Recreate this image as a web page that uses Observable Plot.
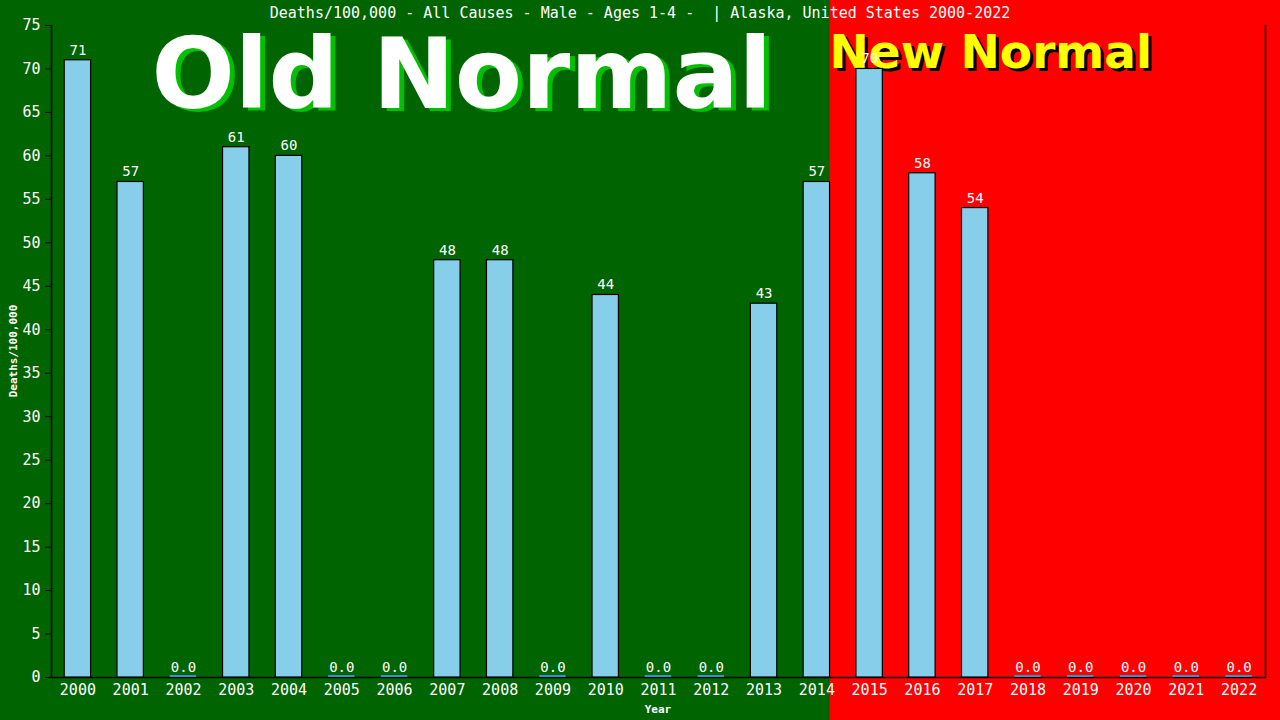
<!DOCTYPE html>
<html>
<head>
<meta charset="utf-8">
<script src="https://cdn.jsdelivr.net/npm/d3@7"></script>
<script src="https://cdn.jsdelivr.net/npm/@observablehq/plot@0.6"></script>
<style>
  html, body { margin: 0; padding: 0; background: #006400; overflow: hidden; }
  #chart svg { display: block; }
</style>
</head>
<body>
<div id="chart"></div>
<script>
const years = ["2000","2001","2002","2003","2004","2005","2006","2007","2008","2009","2010","2011","2012","2013","2014","2015","2016","2017","2018","2019","2020","2021","2022"];
const deaths = [71, 57, 0, 61, 60, 0, 0, 48, 48, 0, 44, 0, 0, 43, 57, 70, 58, 54, 0, 0, 0, 0, 0];
const yTicks = [0, 5, 10, 15, 20, 25, 30, 35, 40, 45, 50, 55, 60, 65, 70, 75];
const titleText = "Deaths/100,000 - All Causes - Male - Ages 1-4 -  | Alaska, United States 2000-2022";
const yLabel = "Deaths/100,000";
const xLabel = "Year";
const oldLabel = "Old Normal";
const newLabel = "New Normal";
const lastOldYear = "2014";

const data = years.map((y, i) => ({year: y, value: deaths[i]}));
const mono = "'DejaVu Sans Mono', monospace";

const chart = Plot.plot({
  width: 1280,
  height: 720,
  marginTop: 25,
  marginBottom: 43,
  marginLeft: 51,
  marginRight: 15,
  style: {background: "transparent", fontFamily: mono, fontSize: "15px", color: "white"},
  x: {type: "band", domain: years, paddingInner: 0.5, paddingOuter: 0.25, round: false, label: null},
  y: {domain: [0, 75], label: null},
  marks: [
    Plot.ruleY([0], {stroke: "black", strokeWidth: 1.5}),
    Plot.barY(data, {x: "year", y: "value", fill: "#87CEEB", stroke: "black", strokeWidth: 1.2}),
    Plot.tickY(data.filter(d => d.value === 0), {x: "year", y: "value", stroke: "#3d8fcc", strokeWidth: 2, dy: -1.5}),
    Plot.text(data, {x: "year", y: "value", text: d => d.value === 0 ? "0.0" : String(d.value),
      dy: -10, fill: "white", fontSize: 14, fontFamily: mono}),
    Plot.axisY({ticks: yTicks, tickSize: 6, tickPadding: 5, stroke: "black", fill: "white", fontSize: 15, label: null}),
    Plot.axisX({tickSize: 0, tickPadding: 7, fill: "white", fontSize: 15, label: null}),
    Plot.frame({anchor: "left", stroke: "black", strokeWidth: 1.5}),
    Plot.frame({anchor: "right", stroke: "black", strokeWidth: 1.5})
  ]
});

document.getElementById("chart").appendChild(chart);

// Background regions and decorative texts tied to the x scale
const sx = chart.scale("x");
const boundary = sx.apply(lastOldYear) + sx.bandwidth;
const svg = d3.select(chart);
const W = 1280, H = 720;
const bg = svg.insert("g", ":first-child");
bg.append("rect").attr("x", 0).attr("y", 0).attr("width", boundary).attr("height", H).attr("fill", "#006400");
bg.append("rect").attr("x", boundary).attr("y", 0).attr("width", W - boundary).attr("height", H).attr("fill", "#ff0000");

const oldX = sx.apply("2007") + sx.bandwidth / 2 + 15;
bg.append("text").attr("x", oldX + 5).attr("y", 111).attr("text-anchor", "middle")
  .attr("font-family", "'DejaVu Sans', sans-serif").attr("font-weight", "bold").attr("font-size", 98)
  .attr("fill", "#00c000").text(oldLabel);
bg.append("text").attr("x", oldX).attr("y", 108).attr("text-anchor", "middle")
  .attr("font-family", "'DejaVu Sans', sans-serif").attr("font-weight", "bold").attr("font-size", 98)
  .attr("fill", "white").text(oldLabel);

bg.append("text").attr("x", boundary + 3).attr("y", 71).attr("text-anchor", "start")
  .attr("font-family", "'DejaVu Sans', sans-serif").attr("font-weight", "bold").attr("font-size", 47)
  .attr("fill", "black").text(newLabel);
bg.append("text").attr("x", boundary).attr("y", 68).attr("text-anchor", "start")
  .attr("font-family", "'DejaVu Sans', sans-serif").attr("font-weight", "bold").attr("font-size", 47)
  .attr("fill", "#ffff00").text(newLabel);

const fg = svg.append("g").attr("fill", "white").attr("font-family", mono);
fg.append("text").attr("x", W / 2).attr("y", 18).attr("text-anchor", "middle").attr("font-size", 15).text(titleText);
fg.append("text").attr("x", 658).attr("y", 713).attr("text-anchor", "middle").attr("font-size", 11).attr("font-weight", "bold").text(xLabel);
fg.append("text").attr("transform", "translate(17,351) rotate(-90)").attr("text-anchor", "middle")
  .attr("font-size", 11).attr("font-weight", "bold").text(yLabel);
</script>
</body>
</html>
